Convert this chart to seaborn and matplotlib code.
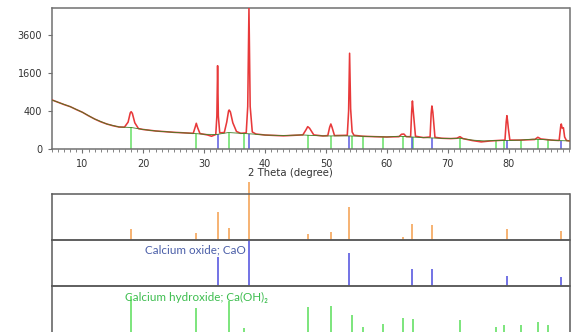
import numpy as np
import pandas as pd
import matplotlib
matplotlib.use("Agg")
import matplotlib.pyplot as plt
from matplotlib.ticker import MultipleLocator, FixedLocator
import seaborn as sns

sns.set_theme(style="white")
plt.rcParams['font.family'] = ['DejaVu Sans']

# ---------------- data ----------------
obs_2theta = [5.0, 6.0, 7.0, 8.0, 9.0, 10.0, 11.0, 12.0, 13.0, 14.0, 15.0, 16.0,
              16.9, 17.5, 17.85, 18.0, 18.2, 18.6, 19.2, 20.0, 22.0, 25.0,
              28.2, 28.55, 28.7, 28.9, 29.3, 30.5, 31.2,
              31.9, 32.08, 32.2, 32.32, 32.55,
              33.3, 33.7, 34.0, 34.1, 34.3, 34.7, 35.3, 36.0,
              36.9, 37.15, 37.35, 37.55, 37.9, 38.5, 40.0, 43.0,
              46.2, 46.7, 47.0, 47.3, 48.0, 49.5,
              50.3, 50.6, 50.8, 51.0, 51.4,
              53.5, 53.72, 53.88, 54.05, 54.3, 54.6, 56.0, 58.0, 60.0,
              62.0, 62.4, 62.8, 63.2,
              63.9, 64.08, 64.2, 64.32, 64.45, 64.7, 66.0,
              67.1, 67.28, 67.4, 67.55, 67.65, 67.9, 69.0, 70.5,
              71.5, 72.0, 72.5, 74.0, 75.5, 77.0,
              79.4, 79.6, 79.72, 79.85, 79.95, 80.2, 82.0,
              84.3, 84.8, 85.3, 87.0,
              88.3, 88.55, 88.65, 88.8, 89.0, 89.2, 89.5, 90.0]
obs_counts = [665, 604, 545, 496, 430, 373, 305, 249, 205, 173, 150, 134,
              132, 200, 360, 385, 350, 190, 115, 105, 90, 77,
              68, 140, 183, 130, 66, 55, 45,
              58, 300, 1920, 300, 72,
              75, 200, 400, 421, 380, 190, 85, 68,
              72, 500, 5500, 500, 80, 62, 54, 48,
              55, 100, 138, 120, 55, 47,
              50, 130, 173, 130, 50,
              52, 400, 2537, 450, 80, 52, 45, 42, 40,
              42, 60, 62, 42,
              42, 400, 638, 420, 250, 45, 36,
              40, 350, 512, 380, 250, 38, 32, 30,
              32, 42, 30, 20, 14, 18,
              22, 200, 307, 200, 120, 22, 22,
              25, 38, 28, 22,
              20, 140, 173, 120, 125, 40, 20, 18]

bg_2theta = [5, 6, 8, 10, 12, 14, 16, 18, 20, 22, 25, 28, 30, 32, 34, 36, 38, 40,
             43, 46, 48, 50, 53, 56, 58, 60, 62, 64, 66, 68, 70, 72, 74, 76, 78,
             80, 82, 84, 86, 88, 90]
bg_counts = [665, 604, 496, 373, 249, 173, 134, 128, 105, 90, 77, 68, 60, 58, 75,
             68, 62, 54, 50, 55, 50, 47, 48, 45, 42, 40, 45, 40, 36, 33, 30, 32,
             22, 18, 20, 20, 22, 27, 24, 20, 18]

# reference phases (2theta, relative intensity %)
caoh2_pos = [18.0, 28.7, 34.1, 36.6, 47.1, 50.8, 54.3, 56.0, 59.4, 62.6, 64.3,
             72.0, 77.9, 79.2, 82.1, 84.9, 86.4]
caoh2_rel = [78, 53, 68, 9, 55, 57, 37, 10, 17, 31, 28, 26, 10, 15, 15, 22, 15]

cao_pos = [32.2, 37.35, 53.85, 64.15, 67.4, 79.7, 88.6]
cao_rel = [64, 100, 71, 36, 36, 22, 20]

sample_pos = [18.0, 28.7, 32.2, 34.1, 37.35, 47.1, 50.8, 53.85, 62.6, 64.2, 67.4,
              79.7, 88.6]
sample_rel = [24, 15, 61, 27, 126, 13, 17, 71, 7, 35, 32, 24, 19]

xticks = [10, 20, 30, 40, 50, 60, 70, 80]
yticks = [0, 400, 1600, 3600]

# ---------------- styling ----------------
RED = '#e8393a'
BGGREEN = '#3f7f26'
STICK_GREEN = '#66e066'
STICK_BLUE = '#5a5ae0'
ORANGE = '#f5a55a'
SPINE = '#707070'

W, H = 574, 332
fig = plt.figure(figsize=(W / 100, H / 100), dpi=100)

left = 52 / W
width = (569.5 - 52) / W

ax = fig.add_axes([left, 1 - 149 / H, width, (149 - 8) / H])

ax.set_yscale('function', functions=(lambda v: np.sqrt(np.clip(v, 0, None)), np.square))
ax.set_xlim(5, 90)
ax.set_ylim(0, 5500)

obs = pd.DataFrame({'tt': obs_2theta, 'I': obs_counts})
bg = pd.DataFrame({'tt': bg_2theta, 'I': bg_counts})

# sticks up to the background
g_top = np.interp(caoh2_pos, bg_2theta, bg_counts)
b_top = np.interp(cao_pos, bg_2theta, bg_counts)
ax.vlines(caoh2_pos, 0, g_top, color=STICK_GREEN, lw=1.1, zorder=1)
ax.vlines(cao_pos, 0, b_top, color=STICK_BLUE, lw=1.1, zorder=1)

sns.lineplot(data=obs, x='tt', y='I', ax=ax, color=RED, lw=1.15, sort=False,
             estimator=None, zorder=3)
sns.lineplot(data=bg, x='tt', y='I', ax=ax, color=BGGREEN, lw=0.6, sort=False,
             estimator=None, zorder=4)

ax.xaxis.set_major_locator(FixedLocator(xticks))
ax.xaxis.set_minor_locator(MultipleLocator(1))
ax.yaxis.set_major_locator(FixedLocator(yticks))
ax.set_yticklabels([str(t) for t in yticks])
ax.yaxis.set_minor_locator(FixedLocator([]))
ax.tick_params(axis='both', which='major', direction='out', length=3, width=0.8,
               color=SPINE, labelsize=7, labelcolor='#333333', pad=4,
               bottom=True, left=True)
ax.tick_params(axis='x', which='minor', direction='out', length=1.8, width=0.6,
               color=SPINE, bottom=True)
for s in ax.spines.values():
    s.set_color(SPINE)
    s.set_linewidth(1.1)
ax.set_ylabel('')
ax.set_xlabel('2 Theta (degree)', fontsize=7.3, color='#333333')
ax.xaxis.set_label_coords(0.461, -0.135)

# ---------------- stick patterns ----------------
sub_h = 46 / H
panels = [
    (1 - 240 / H, sample_pos, sample_rel, ORANGE),
    (1 - 286 / H, cao_pos, cao_rel, STICK_BLUE),
    (1 - 332 / H, caoh2_pos, caoh2_rel, STICK_GREEN),
]
axes = []
for i, (b, pos, rel, col) in enumerate(panels):
    a = fig.add_axes([left, b, width, sub_h])
    a.vlines(pos, 0, rel, color=col, lw=1.2, clip_on=False, zorder=1)
    a.set_xlim(5, 90)
    a.set_ylim(0, 100)
    a.set_xticks([])
    a.set_yticks([])
    a.patch.set_alpha(0)
    for s in a.spines.values():
        s.set_color('#5a5a5a')
        s.set_linewidth(1.1)
    if i == 2:
        a.spines['bottom'].set_visible(False)
    axes.append(a)

fig.text(145 / W, 1 - 249.5 / H, 'Calcium oxide; CaO', color='#4a5ea8',
         fontsize=8.4, family=['Lato', 'DejaVu Sans'], ha='left', va='center')
fig.text(125 / W, 1 - 297 / H, 'Calcium hydroxide; Ca(OH)\u2082', color='#3dbd4f',
         fontsize=8.4, family=['Lato', 'DejaVu Sans'], ha='left', va='center')

fig.savefig('out.png', dpi=100)
